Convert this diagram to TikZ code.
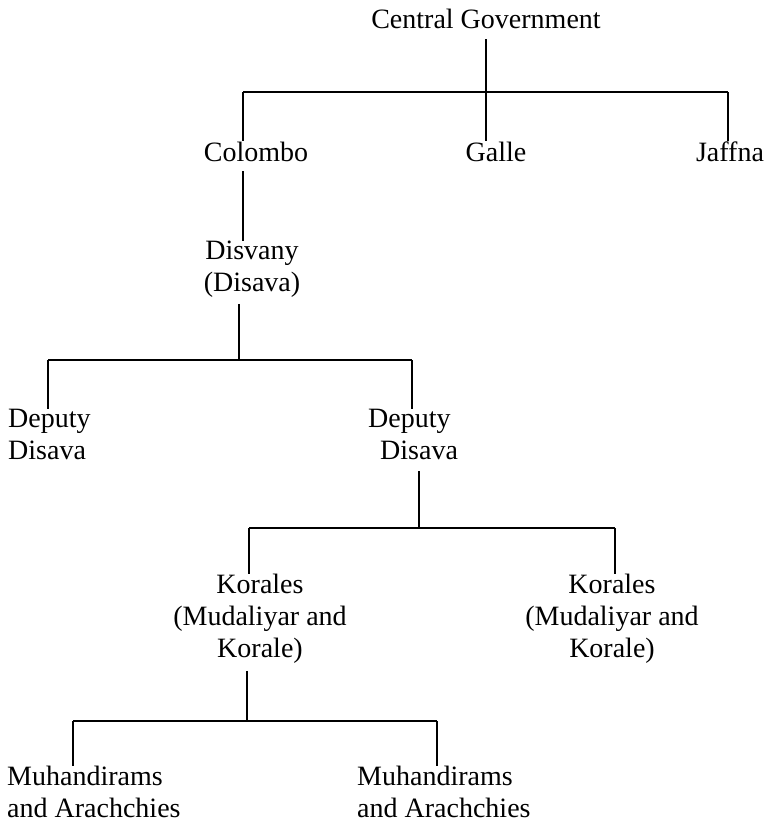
\documentclass[tikz,border=0pt]{standalone}
\usepackage{fontspec}
\setmainfont{Liberation Serif}
\usetikzlibrary{calc}

\tikzset{
    lbl/.style={inner sep=0pt, font=\fontsize{28}{32}\selectfont},
    stem/.style={line width=2.7pt},
    bar/.style={line width=1.6pt}
}

\begin{document}
\begin{tikzpicture}[x=1pt,y=-1pt]
    \useasboundingbox (0,0) rectangle (766,830);

    % Central government and the three towns
    \node[lbl, anchor=base] (central) at (486,28) {Central Government};
    \node[lbl, anchor=base] (colombo) at (256,161) {Colombo};
    \node[lbl, anchor=base] (galle) at (496,161) {Galle};
    \node[lbl, anchor=base] (jaffna) at (730,161) {Jaffna};

    \coordinate (townL) at (243,92);
    \coordinate (townR) at (728,92);
    \draw[stem] ($(central.south)+(0,11)$) -- (central.south |- galle.north);
    \draw[bar] (townL) -- (townR);
    \draw[stem] (townL) -- (townL |- colombo.north);
    \draw[stem] (townR) -- (townR |- jaffna.north);

    % Disvany
    \node[lbl, anchor=north, align=center] (disvany) at (252,241) {Disvany\\(Disava)};
    \draw[stem] ($(colombo.south -| townL)+(0,10)$) -- (townL |- disvany.north);

    % Deputy Disava
    \coordinate (dsHub) at (239,360);
    \coordinate (dsL) at (48,360);
    \coordinate (dsR) at (412,360);
    \node[lbl, anchor=north west, align=left] (deputyL) at (8,409) {Deputy\\Disava};
    \node[lbl, anchor=north west, align=left] (deputyR) at (368,409) {Deputy\\\hspace*{12pt}Disava};
    \draw[stem] ($(dsHub |- disvany.south)+(0,6)$) -- (dsHub);
    \draw[bar] (dsL) -- (dsR);
    \draw[stem] (dsL) -- (dsL |- deputyL.north);
    \draw[stem] (dsR) -- (dsR |- deputyR.north);

    % Korales
    \coordinate (koHub) at (419,528);
    \coordinate (koL) at (249,528);
    \coordinate (koR) at (615,528);
    \node[lbl, anchor=north, align=center] (koralesL) at (260,574) {Korales\\(Mudaliyar and\\Korale)};
    \node[lbl, anchor=north, align=center] (koralesR) at (612,574) {Korales\\(Mudaliyar and\\Korale)};
    \draw[stem] ($(koHub |- deputyR.south)+(0,11)$) -- (koHub);
    \draw[bar] (koL) -- (koR);
    \draw[stem] (koL) -- (koL |- koralesL.north);
    \draw[stem] (koR) -- (koR |- koralesR.north);

    % Muhandirams and Arachchies
    \coordinate (muHub) at (247,721);
    \coordinate (muL) at (73,721);
    \coordinate (muR) at (437,721);
    \node[lbl, anchor=north west, align=left] (muhandL) at (7,766) {Muhandirams\\and Arachchies};
    \node[lbl, anchor=north west, align=left] (muhandR) at (357,766) {Muhandirams\\and Arachchies};
    \draw[stem] ($(muHub |- koralesL.south)+(0,7)$) -- (muHub);
    \draw[bar] (muL) -- (muR);
    \draw[stem] (muL) -- (muL |- muhandL.north);
    \draw[stem] (muR) -- (muR |- muhandR.north);
\end{tikzpicture}
\end{document}
